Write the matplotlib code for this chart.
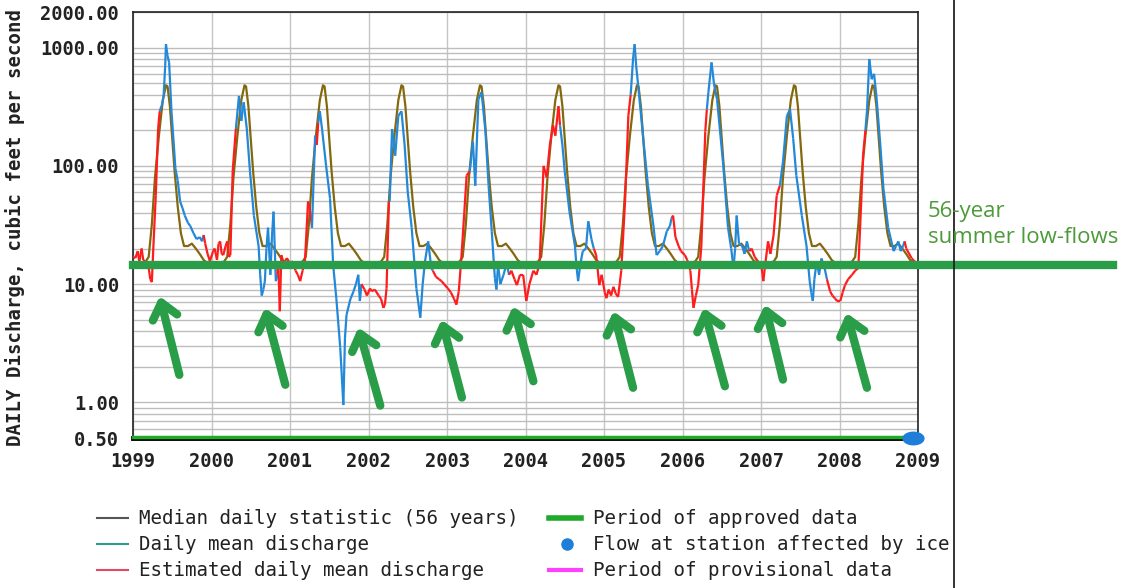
import matplotlib
matplotlib.use("Agg")
import matplotlib.pyplot as plt
from matplotlib.lines import Line2D
from matplotlib.collections import LineCollection
from matplotlib.path import Path
from matplotlib.transforms import offset_copy
import numpy as np

# median daily statistic (56 years), one year shape (fraction of year, cfs)
median_frac = [0.00, 0.08, 0.16, 0.20, 0.24, 0.28, 0.33, 0.38, 0.42, 0.44, 0.47,
               0.50, 0.53, 0.57, 0.61, 0.65, 0.70, 0.75, 0.80, 0.85, 0.90, 0.95, 1.00]
median_q = [15, 15, 15.5, 17, 32, 80, 180, 360, 480, 470, 320,
            170, 90, 45, 27, 21, 21, 22, 20, 18, 16, 15, 15]
years = list(range(1999, 2009))

# daily mean discharge: time (decimal year), cfs, estimated flag (1 = estimated)
t_daily = [
    1999.00, 1999.03, 1999.06, 1999.08, 1999.11, 1999.13, 1999.15, 1999.18, 1999.20, 1999.22,
    1999.24, 1999.26, 1999.29, 1999.32, 1999.34, 1999.37, 1999.39, 1999.41, 1999.42, 1999.44,
    1999.46, 1999.49, 1999.52, 1999.54, 1999.57, 1999.60, 1999.63, 1999.66, 1999.70, 1999.73,
    1999.77, 1999.81, 1999.85, 1999.88, 1999.90, 1999.92, 1999.95, 1999.98,
    2000.02, 2000.04, 2000.07, 2000.09, 2000.11, 2000.13, 2000.15, 2000.18, 2000.20, 2000.22,
    2000.24, 2000.27, 2000.31, 2000.35, 2000.38, 2000.41, 2000.45, 2000.49, 2000.54, 2000.60,
    2000.62, 2000.64, 2000.66, 2000.68, 2000.70, 2000.72, 2000.75, 2000.77, 2000.79, 2000.82,
    2000.84, 2000.85, 2000.87, 2000.89, 2000.92, 2000.96,
    2001.00, 2001.04, 2001.07, 2001.10, 2001.13, 2001.16, 2001.19, 2001.23, 2001.26, 2001.28,
    2001.32, 2001.34, 2001.36, 2001.38, 2001.41, 2001.46, 2001.51, 2001.55, 2001.59, 2001.64,
    2001.68, 2001.70, 2001.72, 2001.77, 2001.81, 2001.84, 2001.87, 2001.89, 2001.91, 2001.95,
    2001.98,
    2002.02, 2002.04, 2002.08, 2002.13, 2002.16, 2002.19, 2002.21, 2002.23, 2002.26, 2002.27,
    2002.30, 2002.34, 2002.38, 2002.42, 2002.46, 2002.50, 2002.55, 2002.61, 2002.66, 2002.69,
    2002.72, 2002.76, 2002.80, 2002.82, 2002.86, 2002.90, 2002.93,
    2003.01, 2003.05, 2003.09, 2003.12, 2003.15, 2003.18, 2003.22, 2003.25, 2003.29, 2003.33,
    2003.36, 2003.40, 2003.44, 2003.49, 2003.53, 2003.57, 2003.61, 2003.63, 2003.65, 2003.68,
    2003.72, 2003.76, 2003.79, 2003.82, 2003.86, 2003.89, 2003.93, 2003.97,
    2004.01, 2004.05, 2004.10, 2004.14, 2004.18, 2004.23, 2004.27, 2004.31, 2004.35, 2004.38,
    2004.42, 2004.44, 2004.47, 2004.50, 2004.56, 2004.63, 2004.65, 2004.67, 2004.70, 2004.73,
    2004.77, 2004.80, 2004.84, 2004.87, 2004.90, 2004.94, 2004.97,
    2005.01, 2005.03, 2005.06, 2005.09, 2005.12, 2005.15, 2005.18, 2005.22, 2005.27, 2005.31,
    2005.34, 2005.37, 2005.39, 2005.41, 2005.44, 2005.50, 2005.56, 2005.63, 2005.67, 2005.71,
    2005.75, 2005.80, 2005.84, 2005.86, 2005.88, 2005.91, 2005.95, 2005.98,
    2006.03, 2006.06, 2006.10, 2006.12, 2006.14, 2006.17, 2006.20, 2006.24, 2006.29, 2006.31,
    2006.33, 2006.37, 2006.40, 2006.44, 2006.52, 2006.58, 2006.62, 2006.65, 2006.67, 2006.69,
    2006.72, 2006.76, 2006.79, 2006.82, 2006.85, 2006.88, 2006.92, 2006.96,
    2007.00, 2007.02, 2007.03, 2007.05, 2007.09, 2007.12, 2007.16, 2007.20, 2007.24, 2007.28,
    2007.33, 2007.37, 2007.41, 2007.45, 2007.52, 2007.58, 2007.62, 2007.64, 2007.66, 2007.68,
    2007.71, 2007.74, 2007.77, 2007.81, 2007.84, 2007.88, 2007.91, 2007.94, 2007.97,
    2008.01, 2008.04, 2008.07, 2008.11, 2008.16, 2008.20, 2008.24, 2008.28, 2008.30, 2008.33,
    2008.35, 2008.38, 2008.41, 2008.44, 2008.47, 2008.52, 2008.56, 2008.62, 2008.69, 2008.72,
    2008.75, 2008.78, 2008.81, 2008.83, 2008.85, 2008.92, 2008.98,
]
q_daily = [
    17, 16.6, 19, 15.5, 20, 16, 15.6, 14.5, 13.7, 11,
    10.4, 21, 56, 205, 290, 330, 390, 700, 1070, 850,
    750, 290, 150, 95, 75, 50, 44, 38, 33, 31,
    27, 24, 25, 23, 26, 22, 18, 15.6,
    19, 20, 16, 22, 23, 18, 17.6, 21, 23, 17,
    17.6, 90, 205, 390, 240, 345, 205, 90, 38, 21,
    12, 8, 9, 10.6, 20, 30, 12, 25, 41, 10.6,
    12, 15.6, 5.9, 17.6, 15, 16.6,
    15, 15.6, 13, 12, 10.6, 13, 15.6, 50, 40, 30,
    180, 150, 230, 290, 200, 100, 53, 14.5, 7.6, 2.9,
    0.95, 3.5, 5.5, 7.5, 8.7, 10, 12, 7.2, 10, 9,
    8,
    9.2, 8.7, 9, 8, 7.5, 6.3, 6.8, 9.2, 50, 50,
    205, 122, 265, 290, 150, 60, 30, 9.2, 5.2, 10,
    15.6, 23, 13.7, 13, 11.5, 11, 10.6,
    9.2, 8.5, 7.5, 6.7, 8.7, 15.6, 40, 83, 90, 160,
    68, 365, 420, 195, 68, 28, 11.2, 9, 14.5, 10,
    12, 15, 12, 13, 11, 9.8, 12, 12,
    7.2, 10, 13, 12, 15, 100, 80, 150, 220, 180,
    320, 220, 150, 90, 41, 21, 14, 10.6, 15, 19,
    20, 34, 24, 20, 17.6, 9.8, 12,
    8.5, 7.6, 9, 8, 9.5, 8.3, 7.8, 13, 53, 265,
    400, 800, 1070, 700, 445, 170, 68, 31, 17.6, 19,
    21, 28, 31, 36, 38, 25, 21, 19,
    17.6, 16, 13, 9, 6.3, 8, 9.8, 21, 195, 300,
    420, 750, 500, 365, 100, 30, 20, 13.7, 20, 38,
    22, 21, 18, 23, 19, 20, 17, 15.6,
    15, 12, 10.6, 14, 23, 18, 26, 56, 68, 108,
    265, 300, 170, 83, 38, 21, 10.6, 8.5, 7.2, 11,
    15.6, 12, 16.5, 13.7, 11, 8.7, 8, 7.6, 7.2,
    7.2, 8.5, 9.8, 11, 12, 13, 13.7, 56, 122, 200,
    290, 800, 540, 600, 390, 150, 64, 30, 19, 21,
    23, 19, 21, 23, 20, 16.5, 15,
]
est_flag = [
    1, 1, 1, 1, 1, 1, 1, 1, 1, 1,
    1, 1, 1, 1, 0, 0, 0, 0, 0, 0,
    0, 0, 0, 0, 0, 0, 0, 0, 0, 0,
    0, 0, 0, 0, 1, 1, 1, 1,
    1, 1, 1, 1, 1, 1, 1, 1, 1, 1,
    1, 1, 0, 0, 0, 0, 0, 0, 0, 0,
    0, 0, 0, 0, 0, 0, 0, 0, 0, 0,
    1, 1, 1, 1, 1, 1,
    1, 1, 1, 1, 1, 1, 1, 1, 1, 0,
    0, 1, 0, 0, 0, 0, 0, 0, 0, 0,
    0, 0, 0, 0, 0, 0, 0, 0, 1, 1,
    1,
    1, 1, 1, 1, 1, 1, 1, 1, 1, 0,
    0, 0, 0, 0, 0, 0, 0, 0, 0, 0,
    0, 0, 0, 1, 1, 1, 1,
    1, 1, 1, 1, 1, 1, 1, 1, 0, 0,
    0, 0, 0, 0, 0, 0, 0, 0, 0, 0,
    0, 0, 1, 1, 1, 1, 1, 1,
    1, 1, 1, 1, 1, 1, 1, 1, 1, 1,
    1, 0, 0, 0, 0, 0, 0, 0, 0, 0,
    0, 0, 0, 1, 1, 1, 1,
    1, 1, 1, 1, 1, 1, 1, 1, 1, 1,
    0, 0, 0, 0, 0, 0, 0, 0, 0, 0,
    0, 0, 0, 1, 1, 1, 1, 1,
    1, 1, 1, 1, 1, 1, 1, 1, 1, 0,
    0, 0, 0, 0, 0, 0, 0, 0, 0, 0,
    0, 0, 0, 0, 1, 1, 1, 1,
    1, 1, 1, 1, 1, 1, 1, 1, 0, 0,
    0, 0, 0, 0, 0, 0, 0, 0, 0, 0,
    0, 0, 0, 0, 1, 1, 1, 1, 1,
    1, 1, 1, 1, 1, 1, 1, 1, 1, 0,
    0, 0, 0, 0, 0, 0, 0, 0, 0, 0,
    0, 0, 0, 1, 1, 1, 1,
]

low_flow = 14.5  # 56-year summer low-flow level

# annotation arrows: head (time, cfs) and tail (time, cfs)
arrow_head_t = [1999.34, 2000.68, 2001.87, 2002.93, 2003.84, 2005.12, 2006.27, 2007.05, 2008.09]
arrow_head_q = [7.9, 6.3, 4.3, 5.0, 6.5, 5.9, 6.3, 6.7, 5.7]
arrow_tail_t = [1999.59, 2000.94, 2002.15, 2003.19, 2004.10, 2005.37, 2006.54, 2007.28, 2008.35]
arrow_tail_q = [1.71, 1.41, 0.94, 1.10, 1.51, 1.33, 1.37, 1.56, 1.33]

ytick_vals = [0.5, 1, 10, 100, 1000, 2000]

GREEN = "#2a9d48"
BLUE = "#2388d8"
RED = "#ff1c1c"
BROWN = "#84680e"
mono = "DejaVu Sans Mono"

fig = plt.figure(figsize=(11.34, 5.88), dpi=100)
ax = fig.add_axes([133 / 1134, 1 - 438 / 588, 785 / 1134, 426 / 588])
ax.set_yscale("log")
ax.set_xlim(1999, 2009)
ax.set_ylim(0.5, 2000)

# grid
ax.set_xticks(range(1999, 2010))
ax.set_yticks(ytick_vals)
ax.set_yticklabels(["%.2f" % v for v in ytick_vals])
ax.yaxis.set_minor_locator(matplotlib.ticker.LogLocator(base=10, subs=np.arange(2, 10)))
ax.yaxis.set_minor_formatter(matplotlib.ticker.NullFormatter())
ax.grid(True, which="both", axis="y", color="#bdbdbd", lw=1.0)
ax.grid(True, which="major", axis="x", color="#c4c4c4", lw=1.0)
ax.tick_params(which="both", length=0)
ax.tick_params(axis="y", pad=10)
ax.tick_params(axis="x", pad=10)
for lab in ax.get_xticklabels() + ax.get_yticklabels():
    lab.set_family(mono)
    lab.set_weight("bold")
    lab.set_fontsize(13.5)
    lab.set_color("#222222")
for s in ax.spines.values():
    s.set_color("#222222")
    s.set_linewidth(1.2)
ax.spines["bottom"].set_linewidth(3.5)
ax.spines["bottom"].set_color("black")

# median statistic repeated every year
med_t = []
med_q = []
for y in years:
    for f, v in zip(median_frac, median_q):
        med_t.append(y + f)
        med_q.append(v)
ax.plot(med_t, med_q, color=BROWN, lw=1.6, zorder=3)

# daily mean discharge, coloured red where estimated
segs = []
cols = []
for i in range(len(t_daily) - 1):
    segs.append([(t_daily[i], q_daily[i]), (t_daily[i + 1], q_daily[i + 1])])
    cols.append(RED if est_flag[i] else BLUE)
ax.add_collection(LineCollection(segs, colors=cols, linewidths=1.6, zorder=4))

# approved / provisional period bar and ice marker
up = offset_copy(ax.transData, fig=fig, y=1.5, units="dots")
ax.plot([1999, 2008.88], [0.5, 0.5], color="#1faa2a", lw=2.5, zorder=6,
        clip_on=False, transform=up)
ax.plot([2008.88, 2009], [0.5, 0.5], color="#ff30ff", lw=2.5, zorder=6,
        clip_on=False, transform=up)
theta = np.linspace(0, 2 * np.pi, 40)
ell = Path(np.column_stack([np.cos(theta), 0.6 * np.sin(theta)]), closed=True)
ax.plot([2008.94], [0.5], marker=ell, color="#1e7ed8", ms=15, zorder=7, clip_on=False)

# low-flow line across and beyond the plot
ax.axhline(low_flow, xmin=0, xmax=(1113 - 133) / 785, color=GREEN, lw=6,
           zorder=8, clip_on=False)

for ht, hq, tt, tq in zip(arrow_head_t, arrow_head_q, arrow_tail_t, arrow_tail_q):
    ax.annotate("", xy=(ht, hq), xytext=(tt, tq),
                arrowprops=dict(arrowstyle="->,head_length=0.55,head_width=0.45",
                                color=GREEN, lw=6, mutation_scale=20,
                                shrinkA=0, shrinkB=0), zorder=9)

fig.text(928 / 1134, 1 - 201 / 588, "56-year\nsummer low-flows", color="#4d9a3a",
         fontsize=16, family="Open Sans", va="top", ha="left", linespacing=1.3)

fig.text(15 / 1134, 1 - 228 / 588, "DAILY Discharge, cubic feet per second",
         rotation=90, family=mono, weight="bold", fontsize=13.7, color="#222222",
         ha="center", va="center")

# separator line at right
fig.add_artist(Line2D([954 / 1134, 954 / 1134], [0, 1], color="#222222", lw=1.3,
                      transform=fig.transFigure))

# legend
leg_left = ["Median daily statistic (56 years)", "Daily mean discharge",
            "Estimated daily mean discharge"]
leg_left_colors = ["#555555", "#2a9d8f", "#e04a6a"]
leg_right = ["Period of approved data", "Flow at station affected by ice",
             "Period of provisional data"]
leg_right_colors = ["#1faa2a", "#1e7ed8", "#ff40ff"]
rows_y = [518, 544, 570]
for i, ypx in enumerate(rows_y):
    yf = 1 - ypx / 588
    fig.add_artist(Line2D([97 / 1134, 128 / 1134], [yf, yf], color=leg_left_colors[i],
                          lw=1.5, transform=fig.transFigure))
    fig.text(139 / 1134, yf, leg_left[i], family=mono, fontsize=13.8, va="center",
             color="#222222")
    if i == 1:
        fig.add_artist(Line2D([567 / 1134], [yf], marker="o", ms=8,
                              color=leg_right_colors[i], transform=fig.transFigure))
    else:
        fig.add_artist(Line2D([549 / 1134, 581 / 1134], [yf, yf],
                              color=leg_right_colors[i], lw=4 if i == 0 else 3,
                              transform=fig.transFigure))
    fig.text(593 / 1134, yf, leg_right[i], family=mono, fontsize=13.8, va="center",
             color="#222222")

fig.savefig("out.png", dpi=100)
